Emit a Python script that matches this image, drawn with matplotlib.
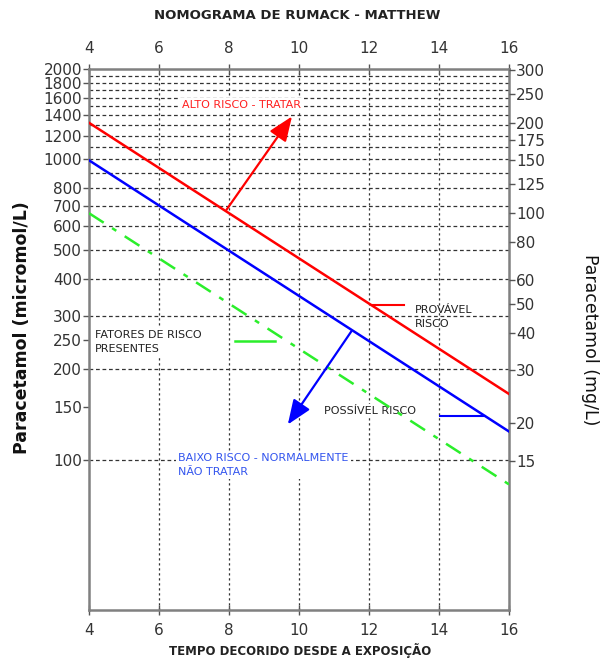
import matplotlib
matplotlib.use('Agg')
from matplotlib import pyplot as plt
from matplotlib.ticker import NullLocator, FixedLocator
import numpy as np

MG_TO_UMOL = 6.62

hours = [4, 16]
treat_mg = [200, 25]        # linha vermelha (mg/L)
possible_mg = [150, 18.75]  # linha azul
risk_mg = [100, 12.5]       # linha verde, fatores de risco

x_ticks = [4, 6, 8, 10, 12, 14, 16]
left_ticks = [100, 150, 200, 250, 300, 400, 500, 600, 700, 800,
              1000, 1200, 1400, 1600, 1800, 2000]
right_ticks = [15, 20, 30, 40, 50, 60, 80, 100, 125, 150, 175, 200, 250, 300]
hgrid = [100, 200, 300, 400, 500, 600, 700, 800, 900, 1000, 1100, 1200,
         1300, 1400, 1500, 1600, 1700, 1800, 1900]
vgrid = [6, 8, 10, 12, 14]

red_arrow = [(7.93, 680), (9.8, 1390)]
blue_arrow = [(11.5, 268), (9.68, 131)]

treat = np.array(treat_mg) * MG_TO_UMOL
possible = np.array(possible_mg) * MG_TO_UMOL
risk = np.array(risk_mg) * MG_TO_UMOL

fig = plt.figure(figsize=(6.07, 6.60), dpi=100)
ax = fig.add_axes([0.1466, 0.0758, 0.692, 0.8197])
ax.set_yscale('log')
ax.set_xlim(4, 16)
ax.set_ylim(31.6, 2000)

for v in hgrid:
    ax.axhline(v, color='#333333', lw=0.9, ls=(0, (3, 2.2)), zorder=1)
for v in vgrid:
    ax.axvline(v, color='#333333', lw=0.9, ls=(0, (1.8, 2.2)), zorder=1)

ax.plot(hours, treat, color='#ff0000', lw=1.8, zorder=4)
ax.plot(hours, possible, color='#0000ff', lw=1.8, zorder=4)
ax.plot(hours, risk, color='#2bee2b', lw=1.8, ls=(0, (7, 4, 2, 4)), zorder=4)

# marcadores das legendas
ax.plot([12.08, 13.0], [328, 328], color='#ff0000', lw=1.5, zorder=4)
ax.plot([14.03, 15.3], [140, 140], color='#0000ff', lw=1.5, zorder=4)
ax.plot([8.17, 9.3], [249, 249], color='#2bee2b', lw=1.8, zorder=4)

ax.annotate('', xy=red_arrow[1], xytext=red_arrow[0], zorder=5,
            arrowprops=dict(arrowstyle='-|>,head_length=0.75,head_width=0.3',
                            color='#ff0000', lw=1.6, mutation_scale=20, shrinkA=0, shrinkB=0))
ax.annotate('', xy=blue_arrow[1], xytext=blue_arrow[0], zorder=5,
            arrowprops=dict(arrowstyle='-|>,head_length=0.75,head_width=0.3',
                            color='#0000ff', lw=1.6, mutation_scale=20, shrinkA=0, shrinkB=0))

box = dict(facecolor='white', edgecolor='none', pad=1.5)
ax.text(6.66, 1520, 'ALTO RISCO - TRATAR', color='#ff2020', fontsize=8,
        va='center', ha='left', bbox=box, zorder=3)
ax.text(13.3, 328, 'PROVÁVEL\nRISCO', color='#222222', fontsize=8,
        va='top', ha='left', linespacing=1.5, zorder=3)
ax.text(10.7, 145, 'POSSÍVEL RISCO', color='#222222', fontsize=8,
        va='center', ha='left', bbox=box, zorder=3)
ax.text(4.17, 246, 'FATORES DE RISCO\nPRESENTES', color='#222222', fontsize=8,
        va='center', ha='left', linespacing=1.5, bbox=box, zorder=3)
ax.text(6.55, 96, 'BAIXO RISCO - NORMALMENTE\nNÃO TRATAR', color='#3355ee', fontsize=8,
        va='center', ha='left', linespacing=1.5, bbox=box, zorder=3)

for s in ax.spines.values():
    s.set_color('#808080')
    s.set_linewidth(1.8)

ax.xaxis.set_major_locator(FixedLocator(x_ticks))
ax.yaxis.set_major_locator(FixedLocator(left_ticks))
ax.yaxis.set_minor_locator(NullLocator())
ax.set_yticklabels([str(t) for t in left_ticks])
ax.tick_params(axis='x', which='both', top=True, labeltop=True, direction='inout',
               length=7, width=1, color='#555555', labelsize=11, labelcolor='#333333', pad=6)
ax.tick_params(axis='y', direction='out', length=4, width=1, color='#555555',
               labelsize=11, labelcolor='#333333', pad=1)

ax2 = ax.twinx()
ax2.set_yscale('log')
ax2.set_ylim(31.6 / MG_TO_UMOL, 2000 / MG_TO_UMOL)
ax2.yaxis.set_major_locator(FixedLocator(right_ticks))
ax2.yaxis.set_minor_locator(NullLocator())
ax2.set_yticklabels([str(t) for t in right_ticks])
ax2.tick_params(axis='y', direction='out', length=4, width=1, color='#555555',
                labelsize=11, labelcolor='#333333', pad=1)
for s in ax2.spines.values():
    s.set_visible(False)

fig.text(0.489, 0.977, 'NOMOGRAMA DE RUMACK - MATTHEW', ha='center', va='center',
         fontsize=9.5, fontweight='bold', color='#222222')
fig.text(0.494, 0.014, 'TEMPO DECORIDO DESDE A EXPOSIÇÃO', ha='center', va='center',
         fontsize=8.5, fontweight='bold', color='#222222')
fig.text(0.036, 0.504, 'Paracetamol (micromol/L)', rotation=90, ha='center', va='center',
         fontsize=12.5, fontweight='bold', color='#111111')
fig.text(0.972, 0.485, 'Paracetamol (mg/L)', rotation=270, ha='center', va='center',
         fontsize=12.5, color='#111111')

fig.savefig('out.png', dpi=100)
